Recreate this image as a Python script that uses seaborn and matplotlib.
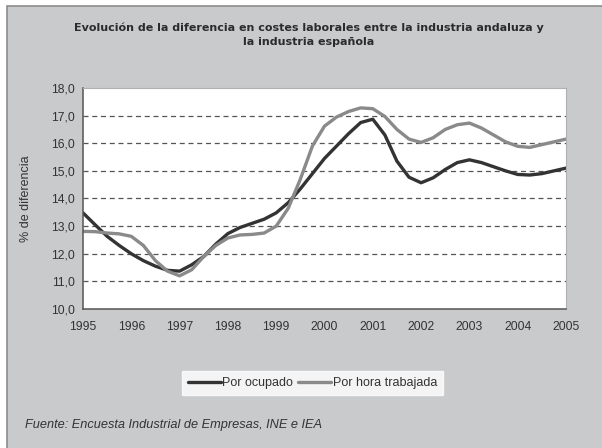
"""Evolucion de la diferencia en costes laborales Andalucia vs Espana."""

import matplotlib.pyplot as plt
import pandas as pd
import seaborn as sns
from matplotlib.patches import Rectangle

# trimestres
periodos = [
    1995.00, 1995.25, 1995.50, 1995.75, 1996.00, 1996.25, 1996.50, 1996.75,
    1997.00, 1997.25, 1997.50, 1997.75, 1998.00, 1998.25, 1998.50, 1998.75,
    1999.00, 1999.25, 1999.50, 1999.75, 2000.00, 2000.25, 2000.50, 2000.75,
    2001.00, 2001.25, 2001.50, 2001.75, 2002.00, 2002.25, 2002.50, 2002.75,
    2003.00, 2003.25, 2003.50, 2003.75, 2004.00, 2004.25, 2004.50, 2004.75,
    2005.00,
]
por_ocupado = [
    13.48, 13.05, 12.63, 12.30, 12.00, 11.75, 11.55, 11.40,
    11.37, 11.60, 11.90, 12.35, 12.73, 12.95, 13.10, 13.25,
    13.48, 13.85, 14.35, 14.90, 15.45, 15.90, 16.35, 16.75,
    16.87, 16.30, 15.35, 14.77, 14.57, 14.75, 15.05, 15.30,
    15.40, 15.30, 15.15, 15.00, 14.87, 14.85, 14.90, 15.00,
    15.10,
]
por_hora = [
    12.81, 12.80, 12.75, 12.72, 12.63, 12.30, 11.75, 11.37,
    11.20, 11.42, 11.90, 12.30, 12.57, 12.68, 12.70, 12.75,
    13.00, 13.65, 14.70, 15.90, 16.62, 16.95, 17.15, 17.28,
    17.25, 16.97, 16.50, 16.15, 16.03, 16.20, 16.50, 16.67,
    16.73, 16.55, 16.30, 16.05, 15.89, 15.85, 15.95, 16.05,
    16.15,
]
anios = [1995, 1996, 1997, 1998, 1999, 2000, 2001, 2002, 2003, 2004, 2005]
y_ticks = [10, 11, 12, 13, 14, 15, 16, 17, 18]

series = {"Por ocupado": por_ocupado, "Por hora trabajada": por_hora}
colores = {"Por ocupado": "#333333", "Por hora trabajada": "#8a8a8a"}

data = pd.concat(
    [pd.DataFrame({"periodo": periodos, "valor": v, "serie": k}) for k, v in series.items()],
    ignore_index=True,
)

sns.set_theme(style="white")
plt.rcParams["font.family"] = ["Liberation Sans", "DejaVu Sans"]

fig = plt.figure(figsize=(6.02, 4.48), dpi=100)
fig.patch.set_facecolor("white")
fig.patches.append(
    Rectangle((7 / 602, -0.01), 1.0, 1 - 6 / 448 + 0.01, transform=fig.transFigure,
              facecolor="#c9cacc", edgecolor="#8c8c8c", linewidth=1.2, zorder=-10)
)

ax = fig.add_axes([83 / 602, 1 - 309 / 448, (566 - 83) / 602, (309 - 88) / 448])
ax.set_facecolor("white")

sns.lineplot(data=data, x="periodo", y="valor", hue="serie", palette=colores,
             linewidth=2.4, ax=ax, legend=False)

ax.set_xlim(1995, 2005)
ax.set_ylim(10, 18)
ax.set_xticks(anios)
ax.set_xticklabels([str(a) for a in anios], fontsize=8.7, color="#333333")
ax.set_yticks(y_ticks)
ax.set_yticklabels([f"{v:.1f}".replace(".", ",") for v in y_ticks], fontsize=8.7, color="#333333")
ax.tick_params(axis="x", direction="inout", length=7, width=1, color="#555555", pad=5)
ax.tick_params(axis="y", direction="out", length=4, width=1, color="#555555", pad=2)
ax.set_xlabel("")
ax.set_ylabel("% de diferencia", fontsize=9, color="#333333")
ax.yaxis.set_label_coords(-(83 - 32) / 483, 0.5)

for v in y_ticks[1:-1]:
    ax.axhline(v, color="#555555", linewidth=0.9, linestyle=(0, (4, 3)), zorder=0)

for side in ["left", "bottom"]:
    ax.spines[side].set_color("#555555")
    ax.spines[side].set_linewidth(1.1)
for side in ["top", "right"]:
    ax.spines[side].set_color("#b0b0b0")
    ax.spines[side].set_linewidth(0.8)

fig.text(309 / 602, 1 - 34.5 / 448,
         "Evolución de la diferencia en costes laborales entre la industria andaluza y\nla industria española",
         ha="center", va="center", fontsize=8, fontweight="bold", color="#2b2b2b",
         linespacing=1.45, family="DejaVu Sans")

handles = [plt.Line2D([], [], color=colores[k], linewidth=2.4) for k in series]
leg = fig.legend(handles, list(series.keys()), loc="center", bbox_to_anchor=(312.5 / 602, 1 - 383 / 448),
                 ncol=2, frameon=True, fontsize=9, handlelength=2.6, handletextpad=0.15,
                 columnspacing=0.4, borderpad=0.45, borderaxespad=0, fancybox=False)
leg.get_frame().set_facecolor("white")
leg.get_frame().set_edgecolor("white")
for t in leg.get_texts():
    t.set_color("#333333")

fig.text(25 / 602, 1 - 425 / 448, "Fuente: Encuesta Industrial de Empresas, INE e IEA",
         ha="left", va="center", fontsize=9.2, style="italic", color="#333333")

fig.savefig("out.png", dpi=100)
